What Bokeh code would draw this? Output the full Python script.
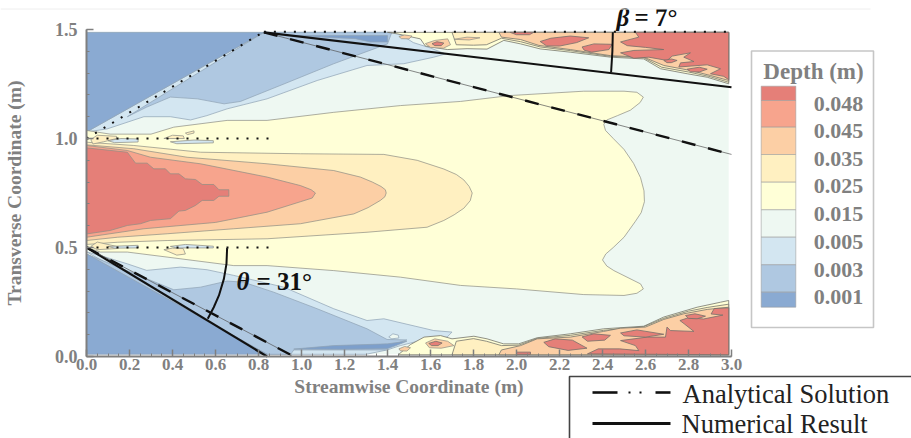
from bokeh.plotting import figure
from bokeh.embed import file_html
from bokeh.resources import INLINE
from bokeh.core.properties import value
from bokeh.models import FixedTicker, NumeralTickFormatter, Range1d

# ---- tick values
x_ticks = [0.0, 0.2, 0.4, 0.6, 0.8, 1.0, 1.2, 1.4, 1.6, 1.8, 2.0, 2.2, 2.4, 2.6, 2.8, 3.0]
x_minor = [i * 0.05 for i in range(61)]
y_ticks = [0.0, 0.5, 1.0, 1.5]
y_minor = [i * 0.1 for i in range(16)]

# ---- legend categories
levels = ["0.048", "0.045", "0.035", "0.025", "0.015", "0.005", "0.003", "0.001"]
level_colors = ["#e57f78", "#f7a48d", "#fccfa5", "#fff0c1", "#ffffd7", "#eef8f2", "#d3e6f1", "#afc8e1", "#8aaad2"]
C_RED, C_SALMON, C_PEACH, C_ORANGE, C_YELLOW, C_MINT, C_LBLUE, C_MBLUE, C_DBLUE = level_colors
C_DEEP = "#7d9fcb"

# ---- depth field contours, (x, y) in metres
field = [(0.0, 0.01), (2.987, 0.01), (2.987, 1.487), (0.0, 1.487)]

lblue_top = [(0.0, 1.03), (0.096, 1.044), (0.267, 1.10), (0.39, 1.10), (0.484, 1.085), (0.56, 1.105), (0.654, 1.136),
             (0.84, 1.182), (1.073, 1.266), (1.305, 1.335), (1.476, 1.343), (1.615, 1.373), (1.67, 1.388), (1.60, 1.415),
             (1.52, 1.44), (1.445, 1.487), (0.825, 1.487)]
mblue_top = [(0.19, 1.10), (0.28, 1.144), (0.39, 1.19), (0.515, 1.182), (0.64, 1.159), (0.716, 1.17), (0.918, 1.25),
             (1.15, 1.343), (1.40, 1.434), (1.42, 1.487), (0.825, 1.487)]
deep_top = [(0.93, 1.472), (1.40, 1.472), (1.40, 1.443), (1.32, 1.443), (1.25, 1.458), (1.10, 1.465)]
dblue_top = [(0.0, 1.03), (0.0, 1.487), (0.825, 1.487)]

lblue_bot = [(0.0, 0.48), (0.065, 0.463), (0.19, 0.425), (0.28, 0.395), (0.437, 0.41), (0.561, 0.398), (0.685, 0.372),
             (0.918, 0.318), (1.15, 0.219), (1.305, 0.165), (1.383, 0.173), (1.615, 0.119), (1.70, 0.112),
             (1.677, 0.089), (1.553, 0.073), (1.46, 0.05), (1.398, 0.03), (1.30, 0.01), (0.84, 0.01)]
mblue_bot = [(0.0, 0.47), (0.406, 0.306), (0.53, 0.318), (0.654, 0.346), (0.73, 0.341), (0.871, 0.295), (1.073, 0.219),
             (1.305, 0.127), (1.398, 0.078), (1.49, 0.076), (1.414, 0.05), (1.39, 0.03), (0.964, 0.03), (0.95, 0.01), (0.84, 0.01)]
deep_bot = [(0.964, 0.034), (1.15, 0.05), (1.40, 0.058), (1.49, 0.07), (1.44, 0.05), (1.40, 0.036), (1.2, 0.033)]
dblue_bot = [(0.0, 0.471), (0.84, 0.01), (0.0, 0.01)]
mint_blob = [(1.406, 0.09), (1.425, 0.104), (1.45, 0.098), (1.453, 0.085), (1.42, 0.081)]

yellow_main = [(0.0, 1.037), (0.11, 1.02), (0.3, 1.02), (0.406, 1.052), (0.654, 1.083), (0.84, 1.083), (1.15, 1.12),
               (1.46, 1.151), (1.74, 1.17), (1.97, 1.197), (2.313, 1.217), (2.5, 1.217), (2.56, 1.212), (2.59, 1.19),
               (2.575, 1.165), (2.53, 1.13), (2.47, 1.105), (2.42, 1.085), (2.406, 1.065), (2.414, 1.037), (2.45, 1.0),
               (2.5, 0.95), (2.545, 0.885), (2.577, 0.82), (2.593, 0.76), (2.595, 0.71), (2.58, 0.66), (2.553, 0.62),
               (2.5, 0.547), (2.45, 0.50), (2.415, 0.47), (2.40, 0.443), (2.42, 0.415), (2.453, 0.394), (2.577, 0.333),
               (2.59, 0.31), (2.56, 0.29), (2.5, 0.28), (2.313, 0.284), (2.0, 0.31), (1.74, 0.326), (1.46, 0.364),
               (1.15, 0.394), (0.84, 0.417), (0.685, 0.417), (0.375, 0.456), (0.19, 0.479), (0.065, 0.479), (0.0, 0.5)]
orange_main = [(0.0, 0.983), (0.22, 0.968), (0.53, 0.937), (0.995, 0.93), (1.383, 0.927), (1.538, 0.9), (1.662, 0.86),
               (1.72, 0.835), (1.755, 0.81), (1.78, 0.78), (1.794, 0.75), (1.785, 0.715), (1.755, 0.68), (1.71, 0.65),
               (1.662, 0.624), (1.584, 0.593), (1.305, 0.57), (0.84, 0.54), (0.375, 0.532), (0.143, 0.524), (0.0, 0.514)]
peach_main = [(0.0, 0.971), (0.22, 0.953), (0.468, 0.914), (0.84, 0.884), (1.15, 0.853), (1.274, 0.823), (1.33, 0.80),
              (1.37, 0.78), (1.39, 0.765), (1.394, 0.75), (1.388, 0.733), (1.367, 0.716), (1.31, 0.683), (1.243, 0.654),
              (0.995, 0.609), (0.685, 0.586), (0.375, 0.563), (0.143, 0.547), (0.0, 0.532)]
salmon_main = [(0.0, 0.968), (0.19, 0.945), (0.298, 0.914), (0.53, 0.884), (0.84, 0.823), (0.995, 0.784), (1.045, 0.765),
               (1.065, 0.75), (1.05, 0.727), (0.995, 0.71), (0.84, 0.662), (0.6, 0.615), (0.267, 0.586), (0.0, 0.547)]
red_main = [(0.0, 0.957), (0.19, 0.937), (0.228, 0.887), (0.282, 0.887), (0.313, 0.861), (0.367, 0.861), (0.39, 0.838),
            (0.43, 0.838), (0.46, 0.815), (0.507, 0.812), (0.538, 0.789), (0.592, 0.789), (0.616, 0.765), (0.662, 0.765),
            (0.662, 0.735), (0.616, 0.735), (0.592, 0.716), (0.538, 0.716), (0.507, 0.693), (0.46, 0.67), (0.43, 0.667),
            (0.39, 0.632), (0.298, 0.624), (0.251, 0.609), (0.19, 0.601), (0.11, 0.578), (0.0, 0.562)]

# inlet patches next to the dotted lines
patch_orange = [
    [(0.02, 0.995), (0.05, 1.015), (0.14, 1.01), (0.14, 1.0), (0.08, 0.985), (0.03, 0.975)],
    [(0.36, 1.0), (0.40, 1.015), (0.45, 1.012), (0.455, 1.0)],
    [(0.46, 1.025), (0.50, 1.035), (0.50, 1.025), (0.47, 1.018)],
    [(0.02, 0.505), (0.05, 0.525), (0.14, 0.505), (0.14, 0.495), (0.05, 0.49)],
    [(0.36, 0.49), (0.40, 0.497), (0.45, 0.495), (0.46, 0.47), (0.42, 0.465)],
]
patch_lblue = [
    [(0.10, 0.99), (0.16, 1.0), (0.24, 0.998), (0.24, 0.984), (0.13, 0.981)],
    [(0.39, 0.985), (0.50, 0.993), (0.59, 0.99), (0.59, 0.98), (0.42, 0.976)],
    [(0.10, 0.505), (0.24, 0.51), (0.24, 0.498), (0.13, 0.497)],
    [(0.39, 0.505), (0.46, 0.514), (0.59, 0.506), (0.59, 0.498), (0.42, 0.498)],
]

# top edge hot band
yellow_top = [(1.40, 1.487), (1.445, 1.48), (1.553, 1.457), (1.576, 1.424), (1.678, 1.408), (1.77, 1.412), (1.863, 1.41),
              (1.941, 1.45), (2.019, 1.434), (2.11, 1.411), (2.25, 1.396), (2.437, 1.373), (2.592, 1.365), (2.67, 1.32),
              (2.794, 1.297), (2.887, 1.281), (2.987, 1.251), (2.987, 1.487)]
orange_top = [(1.70, 1.487), (1.72, 1.43), (1.80, 1.428), (1.86, 1.43), (1.93, 1.46), (2.019, 1.444), (2.11, 1.42),
              (2.25, 1.403), (2.437, 1.377), (2.592, 1.37), (2.675, 1.327), (2.80, 1.305), (2.895, 1.285), (2.987, 1.258),
              (2.987, 1.487)]
peach_top = [(1.918, 1.487), (1.93, 1.465), (2.019, 1.454), (2.104, 1.427), (2.25, 1.408), (2.437, 1.38), (2.592, 1.373),
             (2.685, 1.335), (2.809, 1.312), (2.902, 1.289), (2.987, 1.266), (2.987, 1.487)]
peach_top_blobs = [
    [(1.453, 1.468), (1.48, 1.475), (1.514, 1.47), (1.50, 1.457), (1.465, 1.458)],
    [(1.576, 1.435), (1.62, 1.45), (1.68, 1.457), (1.693, 1.43), (1.66, 1.414), (1.60, 1.418)],
    [(1.709, 1.455), (1.77, 1.465), (1.83, 1.462), (1.78, 1.452)],
]
red_top = [(2.553, 1.487), (2.569, 1.465), (2.484, 1.443), (2.515, 1.426), (2.60, 1.418), (2.685, 1.408), (2.546, 1.404),
           (2.484, 1.393), (2.546, 1.368), (2.615, 1.373), (2.701, 1.358), (2.724, 1.378), (2.809, 1.393), (2.778, 1.373),
           (2.825, 1.353), (2.763, 1.347), (2.755, 1.328), (2.887, 1.338), (2.949, 1.32), (2.902, 1.297), (2.964, 1.285),
           (2.987, 1.27), (2.987, 1.487)]
red_top_blobs = [
    [(1.607, 1.435), (1.63, 1.444), (1.662, 1.438), (1.65, 1.426), (1.62, 1.426)],
    [(1.97, 1.487), (2.0, 1.476), (2.06, 1.476), (2.08, 1.487)],
    [(2.11, 1.445), (2.16, 1.46), (2.25, 1.47), (2.336, 1.462), (2.28, 1.44), (2.20, 1.424), (2.14, 1.425)],
    [(2.305, 1.42), (2.36, 1.434), (2.445, 1.432), (2.43, 1.408), (2.35, 1.396), (2.315, 1.405)],
    [(2.794, 1.318), (2.85, 1.327), (2.887, 1.318), (2.85, 1.305), (2.81, 1.306)],
    [(2.685, 1.358), (2.72, 1.365), (2.747, 1.358), (2.72, 1.348), (2.70, 1.348)],
]

# bottom edge hot band
yellow_bot = [(1.45, 0.008), (1.507, 0.055), (1.57, 0.089), (1.647, 0.096), (1.70, 0.081), (1.802, 0.093), (1.863, 0.081),
              (1.94, 0.058), (2.01, 0.058), (2.096, 0.086), (2.25, 0.104), (2.405, 0.127), (2.592, 0.139), (2.685, 0.181),
              (2.84, 0.226), (2.949, 0.249), (2.987, 0.257), (2.987, 0.008)]
orange_bot = [(1.70, 0.008), (1.72, 0.07), (1.80, 0.082), (1.86, 0.07), (1.93, 0.05), (2.01, 0.052), (2.096, 0.083),
              (2.25, 0.097), (2.405, 0.12), (2.592, 0.137), (2.685, 0.175), (2.80, 0.208), (2.887, 0.225), (2.987, 0.24),
              (2.987, 0.008)]
peach_bot = [(1.918, 0.008), (1.93, 0.03), (2.019, 0.05), (2.096, 0.081), (2.25, 0.089), (2.405, 0.115), (2.484, 0.13),
             (2.6, 0.135), (2.685, 0.17), (2.778, 0.196), (2.887, 0.216), (2.987, 0.226), (2.987, 0.008)]
peach_bot_blobs = [
    [(1.453, 0.035), (1.48, 0.046), (1.507, 0.04), (1.49, 0.025), (1.46, 0.026)],
    [(1.577, 0.062), (1.62, 0.081), (1.68, 0.07), (1.709, 0.05), (1.65, 0.038), (1.595, 0.04)],
]
red_bot = [(2.987, 0.223), (2.92, 0.22), (2.905, 0.195), (2.96, 0.19), (2.87, 0.172), (2.80, 0.178), (2.76, 0.165),
           (2.78, 0.15), (2.825, 0.115), (2.716, 0.119), (2.70, 0.135), (2.693, 0.089), (2.608, 0.089), (2.484, 0.073),
           (2.553, 0.05), (2.569, 0.027), (2.48, 0.035), (2.38, 0.035), (2.33, 0.012), (2.987, 0.008)]
red_bot_blobs = [
    [(1.592, 0.06), (1.625, 0.07), (1.654, 0.062), (1.635, 0.05), (1.605, 0.05)],
    [(2.0, 0.02), (2.065, 0.02), (2.065, 0.01), (2.0, 0.01)],
    [(2.127, 0.065), (2.18, 0.081), (2.26, 0.075), (2.328, 0.038), (2.24, 0.028), (2.15, 0.045)],
    [(2.305, 0.09), (2.36, 0.104), (2.437, 0.097), (2.41, 0.075), (2.33, 0.07)],
    [(2.484, 0.108), (2.56, 0.122), (2.685, 0.102), (2.60, 0.089), (2.50, 0.095)],
    [(2.786, 0.188), (2.83, 0.196), (2.879, 0.185), (2.84, 0.173), (2.80, 0.175)],
]

# ---- analytical and numerical wave fronts and reference lines
numerical_top = [(0.825, 1.487), (3.0, 1.235)]
analytical_top = [(0.825, 1.487), (3.0, 0.927)]
numerical_bot = [(0.0, 0.5), (0.84, 0.0)]
analytical_bot = [(0.0, 0.5), (0.955, 0.005)]
dotted_lines = [[(0.825, 1.49), (3.0, 1.49)], [(0.0, 1.0), (0.87, 1.0)], [(0.0, 0.5), (0.87, 0.5)], [(0.0, 1.0), (0.825, 1.49)]]
beta_arc = [(2.448, 1.487), (2.446, 1.40), (2.44, 1.304)]
theta_arc = [(0.654, 0.497), (0.651, 0.425), (0.639, 0.356), (0.616, 0.28), (0.592, 0.226), (0.564, 0.173)]

SERIF = value("Liberation Serif")
GRAY = "#808080"

X0, SX, Y0, SY = 86.0, 215.0, 356.0, 218.0
FIG_W, FIG_H = 911, 438

def dx(px):
    return (px - X0) / SX

def dy(py):
    return (Y0 - py) / SY

p = figure(width=FIG_W, height=FIG_H, output_backend="svg", toolbar_location=None, min_border=0,
           x_range=Range1d(dx(0), dx(FIG_W)), y_range=Range1d(dy(FIG_H), dy(0)))
p.outline_line_color = None
p.grid.visible = False
p.background_fill_color = "white"

def poly(points, color, line="#8e8e84", alpha=0.8):
    p.patch([q[0] for q in points], [q[1] for q in points], fill_color=color, line_color=line, line_alpha=alpha, line_width=0.9)

def lines(points, **kw):
    return p.line([q[0] for q in points], [q[1] for q in points], **kw)

poly(field, C_MINT, line=None)
BL = "#8fa3b5"
for shape, col in [(lblue_top, C_LBLUE), (lblue_bot, C_LBLUE), (mblue_top, C_MBLUE), (mblue_bot, C_MBLUE),
                   (deep_top, C_DEEP), (deep_bot, C_DEEP), (dblue_top, C_DBLUE), (dblue_bot, C_DBLUE), (mint_blob, C_MINT)]:
    poly(shape, col, line=BL)
for shape, col in [(yellow_main, C_YELLOW), (orange_main, C_ORANGE), (peach_main, C_PEACH), (salmon_main, C_SALMON),
                   (red_main, C_RED)]:
    poly(shape, col)
for shape in patch_orange:
    poly(shape, C_ORANGE)
for shape in patch_lblue:
    poly(shape, C_LBLUE)
for shape, col in [(yellow_top, C_YELLOW), (orange_top, C_ORANGE), (peach_top, C_PEACH), (yellow_bot, C_YELLOW),
                   (orange_bot, C_ORANGE), (peach_bot, C_PEACH)]:
    poly(shape, col, line="#77776e", alpha=0.9)
for shape in peach_top_blobs + peach_bot_blobs:
    poly(shape, C_PEACH)
for shape in [red_top, red_bot] + red_top_blobs + red_bot_blobs:
    poly(shape, C_RED, line="#77706a", alpha=0.9)

# wave fronts
for seg in [numerical_top, numerical_bot]:
    lines(seg, line_color="#111111", line_width=2.2)
for seg in [analytical_top, analytical_bot]:
    lines(seg, line_color="#555555", line_width=0.7)
    lines(seg, line_color="#111111", line_width=2.4, line_dash="14 13")
for seg in dotted_lines:
    lines(seg, line_color="#111111", line_width=2, line_dash="2 8")
lines(beta_arc, line_color="#111111", line_width=2)
lines(theta_arc, line_color="#111111", line_width=2)

# angle labels
def txt(px, py, s, size, color="#111111", style="bold", align="left"):
    p.text([dx(px)], [dy(py)], text=[s], text_font=SERIF, text_font_size=size, text_font_style=style,
           text_color=color, text_align=align, text_baseline="middle")

txt(616, 17, "\u03b2", "25px", style="bold italic")
txt(634, 17, "= 7\u00b0", "25px")
txt(236, 281, "\u03b8", "25px", style="bold italic")
txt(256, 281, "= 31\u00b0", "25px")

# depth legend
p.quad(left=[dx(751)], right=[dx(873)], top=[dy(50.5)], bottom=[dy(327)], fill_color="white", line_color="#c6c6c6", line_width=1.6)
txt(813, 71, "Depth (m)", "23px", color=GRAY, align="center")
edges = [85.7, 100, 126.7, 154, 181.7, 209.3, 236.7, 264.3, 291.7, 306.7]
p.quad(left=[dx(760.7)] * 9, right=[dx(795.3)] * 9, top=[dy(e) for e in edges[:-1]], bottom=[dy(e) for e in edges[1:]],
       fill_color=level_colors, line_color="#9a9a9a", line_alpha=0.7, line_width=0.8)
for lab, py in zip(levels, [103, 130.7, 158, 185.7, 213, 241.7, 269, 296]):
    txt(862.7, py, lab, "22px", color=GRAY, align="right")

# line legend box
lines([(dx(569), dy(438)), (dx(569), dy(376)), (dx(911), dy(376))], line_color="#444444", line_width=1.6)
lines([(dx(592), dy(392)), (dx(617), dy(392))], line_color="#111111", line_width=2.6)
lines([(dx(628), dy(392)), (dx(642), dy(392))], line_color="#111111", line_width=2.2, line_dash="2 9")
lines([(dx(655), dy(392)), (dx(670), dy(392))], line_color="#111111", line_width=2.6)
lines([(dx(592), dy(423)), (dx(670), dy(423))], line_color="#111111", line_width=3)
txt(682, 393, "Analytical Solution", "26.5px", color="#222222", style="normal")
txt(681, 423, "Numerical Result", "26.5px", color="#222222", style="normal")

# faint page rule
lines([(dx(0), dy(8.5)), (dx(870), dy(8.5))], line_color="#eeeeee", line_width=1)

# axes
xa, ya = p.xaxis[0], p.yaxis[0]
xa.fixed_location = 0
ya.fixed_location = 0
xa.bounds = (0, 3)
ya.bounds = (0, 1.5)
xa.ticker = FixedTicker(ticks=x_ticks, minor_ticks=x_minor)
ya.ticker = FixedTicker(ticks=y_ticks, minor_ticks=y_minor)
for ax in (xa, ya):
    ax.formatter = NumeralTickFormatter(format="0.0")
    ax.axis_line_color = "#7f7f7f"
    ax.axis_line_width = 2
    ax.major_tick_line_color = "#7f7f7f"
    ax.minor_tick_line_color = "#7f7f7f"
    ax.major_tick_line_width = 1.5
    ax.minor_tick_line_width = 1
    ax.major_tick_in = 7
    ax.major_tick_out = 0
    ax.minor_tick_in = 3
    ax.minor_tick_out = 0
    ax.major_label_text_font = "Liberation Serif"
    ax.major_label_text_font_style = "bold"
    ax.major_label_text_color = GRAY
    ax.axis_label_text_font = "Liberation Serif"
    ax.axis_label_text_font_style = "bold"
    ax.axis_label_text_color = GRAY
    ax.axis_label_text_font_size = "19.5px"
xa.major_label_text_font_size = "17px"
ya.major_label_text_font_size = "18px"
xa.major_label_standoff = 2
ya.major_label_standoff = 9
xa.axis_label = "Streamwise Coordinate (m)"
ya.axis_label = "Transverse Coordinate (m)"
xa.axis_label_standoff = 3
ya.axis_label_standoff = 27

open("out.html", "w").write(file_html(p, INLINE))
